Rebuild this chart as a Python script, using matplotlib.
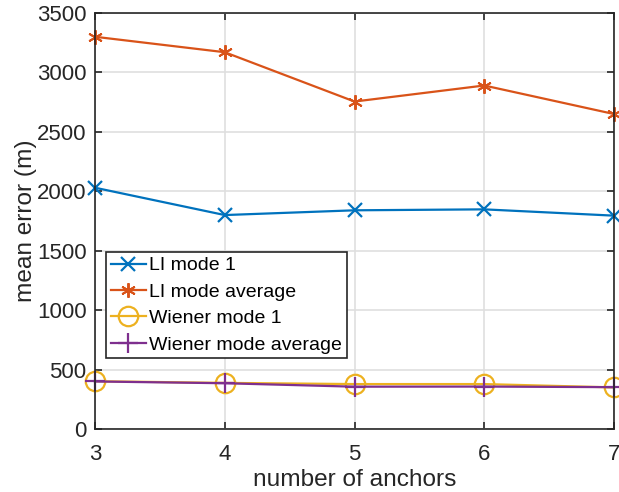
import matplotlib
matplotlib.use('Agg')
import matplotlib.pyplot as plt

# data
anchors = [3, 4, 5, 6, 7]
liMode1 = [2030, 1800, 1840, 1848, 1795]
liModeAvg = [3300, 3170, 2755, 2890, 2650]
wienerMode1 = [402, 388, 378, 378, 350]
wienerModeAvg = [400, 385, 356, 357, 352]
labels = ['LI mode 1', 'LI mode average', 'Wiener mode 1', 'Wiener mode average']

plt.rcParams['font.family'] = ['Liberation Sans', 'DejaVu Sans']
fig = plt.figure(figsize=(6.19, 4.92), dpi=100)
ax = fig.add_axes([95/619, 63/492, 519/619, 416/492])

asterisk = (6, 2, 0)
ax.plot(anchors, liMode1, color='#0072BD', marker='x', ms=9.5, mew=1.6, lw=1.6, label=labels[0], clip_on=False)
ax.plot(anchors, liModeAvg, color='#D95319', marker=asterisk, ms=10.5, mew=1.4, lw=1.6, label=labels[1], clip_on=False)
ax.plot(anchors, wienerMode1, color='#EDB120', marker='o', ms=14, mfc='none', mew=1.6, lw=1.6, label=labels[2], clip_on=False)
ax.plot(anchors, wienerModeAvg, color='#7E2F8E', marker='+', ms=15, mew=1.6, lw=1.6, label=labels[3], clip_on=False)

ax.set_xlim(3, 7)
ax.set_ylim(0, 3500)
ax.set_xticks(anchors)
ax.set_yticks(range(0, 3501, 500))
ax.grid(True, color='#dfdfdf', lw=1.2)
ax.set_axisbelow(True)
for s in ax.spines.values():
  s.set_color('#262626')
  s.set_linewidth(1.2)
  s.set_zorder(3)
ax.tick_params(direction='in', top=True, right=True, length=5, width=1.2, colors='#262626', labelsize=16)
ax.tick_params(axis='x', pad=11)
ax.tick_params(axis='y', pad=6)
ax.set_xlabel('number of anchors', fontsize=17.6, color='#262626', labelpad=3)
ax.set_ylabel('mean error (m)', fontsize=17.6, color='#262626', labelpad=0)

leg = ax.legend(loc='upper left', bbox_to_anchor=(11/519, (429-252)/416), fontsize=14, frameon=True,
                fancybox=False, edgecolor='#262626', framealpha=1, borderpad=0.25, labelspacing=0.45,
                handlelength=1.8, handletextpad=0.15, borderaxespad=0)
leg.get_frame().set_linewidth(1.2)
for t in leg.get_texts():
  t.set_color('#000000')

fig.savefig('out.png', dpi=100)
